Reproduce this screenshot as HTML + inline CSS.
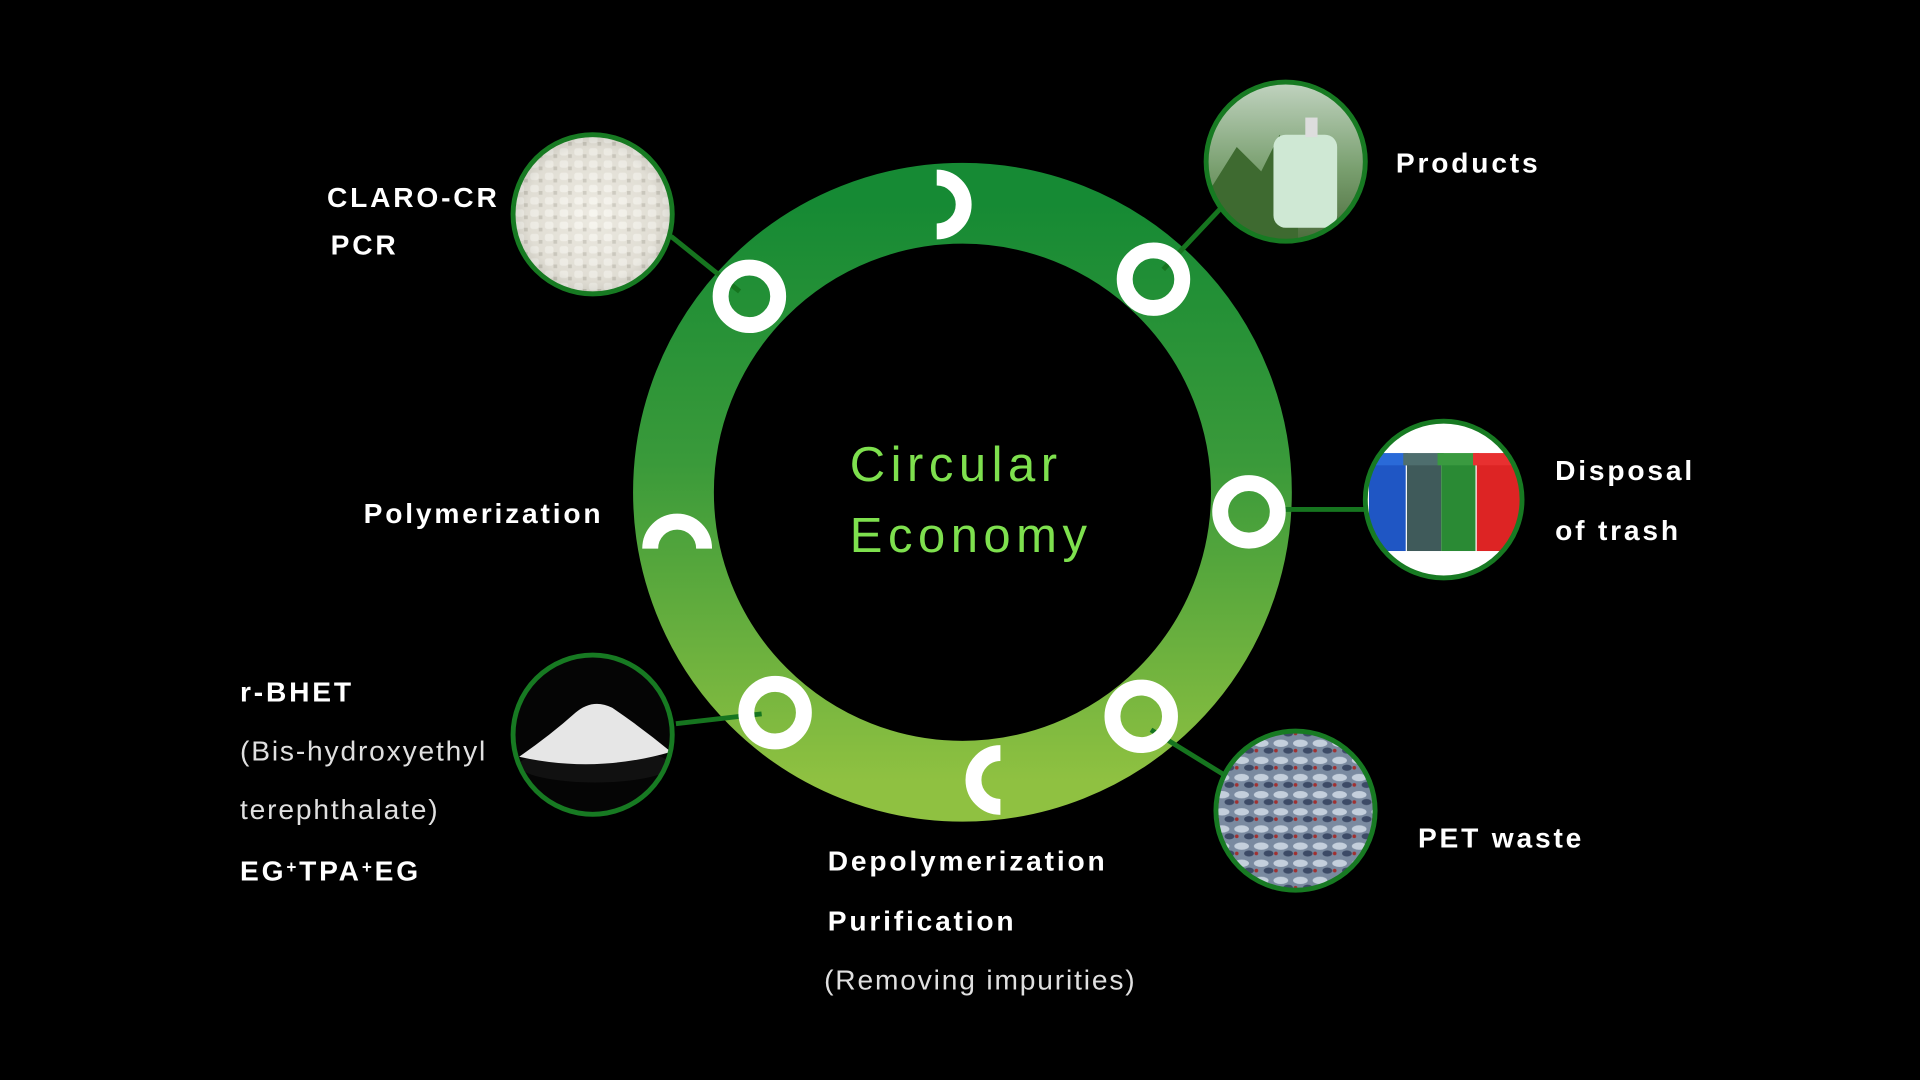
<!DOCTYPE html>
<html><head><meta charset="utf-8"><style>
html,body{margin:0;padding:0;background:#000;width:1920px;height:1080px;overflow:hidden}
svg{display:block}
text{font-family:"Liberation Sans",sans-serif;fill:#fff}
.b{font-weight:bold;font-size:23px;letter-spacing:2.3px}
.l{font-size:23px;letter-spacing:1.5px;fill:#e0e0e0}
</style></head><body>
<svg width="1920" height="1080" viewBox="0 0 1568 882" xmlns="http://www.w3.org/2000/svg">
<defs>
<linearGradient id="rg" x1="0" y1="0" x2="0" y2="1">
<stop offset="0" stop-color="#168a34"/><stop offset="0.45" stop-color="#3a9a3a"/><stop offset="1" stop-color="#8fc141"/>
</linearGradient>
<radialGradient id="grain" cx="0.5" cy="0.5" r="0.6"><stop offset="0" stop-color="#f4f2ea"/><stop offset="0.7" stop-color="#d9d6cc"/><stop offset="1" stop-color="#8a8a80"/></radialGradient>
<pattern id="gp" width="12" height="10" patternUnits="userSpaceOnUse"><rect width="12" height="10" fill="#e6e3da"/><rect x="1" y="1" width="7" height="6" rx="2" fill="#faf9f4"/><rect x="8" y="6" width="3" height="3" fill="#b8b5aa"/></pattern>
<pattern id="pet" width="16" height="14" patternUnits="userSpaceOnUse"><rect width="16" height="14" fill="#7a8aa0"/><ellipse cx="6" cy="5" rx="6" ry="3" fill="#c4cfdc"/><ellipse cx="12" cy="11" rx="4" ry="2.5" fill="#3c4a66"/><circle cx="2" cy="11" r="1.5" fill="#a03030"/></pattern>
<linearGradient id="prod" x1="0" y1="0" x2="0" y2="1"><stop offset="0" stop-color="#c8d8c8"/><stop offset="0.55" stop-color="#7aa070"/><stop offset="1" stop-color="#4a6a3a"/></linearGradient>
<clipPath id="c1"><circle cx="484" cy="175" r="64"/></clipPath>
<clipPath id="c2"><circle cx="1050" cy="132" r="64"/></clipPath>
<clipPath id="c3"><circle cx="1179" cy="408" r="63"/></clipPath>
<clipPath id="c4"><circle cx="1058" cy="662" r="64"/></clipPath>
<clipPath id="c5"><circle cx="484" cy="600" r="64"/></clipPath>
</defs>

<circle cx="786" cy="402" r="236" fill="none" stroke="url(#rg)" stroke-width="66"/>

<g stroke="#16751f" stroke-width="4">
<line x1="548" y1="193" x2="604" y2="238"/>
<line x1="997" y1="170" x2="950" y2="220"/>
<line x1="1046" y1="416" x2="1116" y2="416"/>
<line x1="552" y1="591" x2="622" y2="583"/>
<line x1="940" y1="596" x2="1000" y2="633"/>
</g>

<g fill="none" stroke="#fff" stroke-width="13">
<circle cx="612" cy="242" r="23.5"/>
<circle cx="942" cy="228" r="23.5"/>
<circle cx="1020" cy="418" r="23.5"/>
<circle cx="633" cy="582" r="23.5"/>
<circle cx="932" cy="585" r="23.5"/>
<path d="M765 145 A22 22 0 0 1 765 189"/>
<path d="M531 448 A22 22 0 0 1 575 448"/>
<path d="M817 659 A22 22 0 0 1 817 615"/>
</g>

<g clip-path="url(#c1)"><rect x="410" y="100" width="150" height="150" fill="url(#gp)"/><circle cx="484" cy="175" r="64" fill="url(#grain)" opacity="0.45"/></g>
<circle cx="484" cy="175" r="65" fill="none" stroke="#177a22" stroke-width="4"/>

<g clip-path="url(#c2)"><rect x="980" y="60" width="140" height="140" fill="url(#prod)"/>
<path d="M985 160 L1010 120 L1030 140 L1045 110 L1060 150 L1060 200 L985 200Z" fill="#3e6a30"/>
<rect x="1040" y="110" width="52" height="76" rx="10" fill="#cfe8d4"/><rect x="1066" y="96" width="10" height="16" fill="#ddd"/></g>
<circle cx="1050" cy="132" r="65" fill="none" stroke="#177a22" stroke-width="4"/>

<g clip-path="url(#c3)"><rect x="1110" y="340" width="140" height="140" fill="#fff"/>
<rect x="1118" y="374" width="30" height="76" fill="#1f56c4"/><rect x="1116" y="370" width="34" height="10" fill="#2a6ad8"/>
<rect x="1149" y="374" width="28" height="76" fill="#3f5a5a"/><rect x="1146" y="370" width="33" height="10" fill="#4e6e6e"/>
<rect x="1177" y="374" width="28" height="76" fill="#2a8a34"/><rect x="1174" y="370" width="34" height="10" fill="#3a9a40"/>
<rect x="1206" y="374" width="36" height="76" fill="#dd2424"/><rect x="1203" y="370" width="40" height="10" fill="#e83030"/></g>
<circle cx="1179" cy="408" r="64" fill="none" stroke="#177a22" stroke-width="4"/>

<g clip-path="url(#c4)"><rect x="990" y="595" width="140" height="140" fill="url(#pet)"/></g>
<circle cx="1058" cy="662" r="65" fill="none" stroke="#177a22" stroke-width="4"/>

<g clip-path="url(#c5)"><rect x="410" y="530" width="150" height="150" fill="#050505"/>
<ellipse cx="486" cy="625" rx="62" ry="14" fill="#111"/>
<path d="M424 618 Q450 600 470 582 Q484 570 500 578 Q525 595 548 614 Q486 632 424 618Z" fill="#e6e6e6"/></g>
<circle cx="484" cy="600" r="65" fill="none" stroke="#177a22" stroke-width="4"/>

<text class="b" x="267" y="169">CLARO-CR</text>
<text class="b" x="270" y="208">PCR</text>
<text class="b" x="1140" y="141">Products</text>
<text class="b" x="1270" y="392">Disposal</text>
<text class="b" x="1270" y="441">of trash</text>
<text class="b" x="297" y="427">Polymerization</text>
<text class="b" x="196" y="573">r-BHET</text>
<text class="l" x="196" y="621">(Bis-hydroxyethyl</text>
<text class="l" x="196" y="669">terephthalate)</text>
<text class="b" x="196" y="719">EG<tspan font-size="14" dy="-6">+</tspan><tspan dy="6">TPA</tspan><tspan font-size="14" dy="-6">+</tspan><tspan dy="6">EG</tspan></text>
<text class="b" x="676" y="711">Depolymerization</text>
<text class="b" x="676" y="760">Purification</text>
<text class="l" x="673" y="808">(Removing impurities)</text>
<text class="b" x="1158" y="692">PET waste</text>

<text x="694" y="393" style="fill:#7ee04e;font-size:40px;letter-spacing:4.5px">Circular</text>
<text x="694" y="451" style="fill:#7ee04e;font-size:40px;letter-spacing:4.5px">Economy</text>
</svg>
</body></html>
